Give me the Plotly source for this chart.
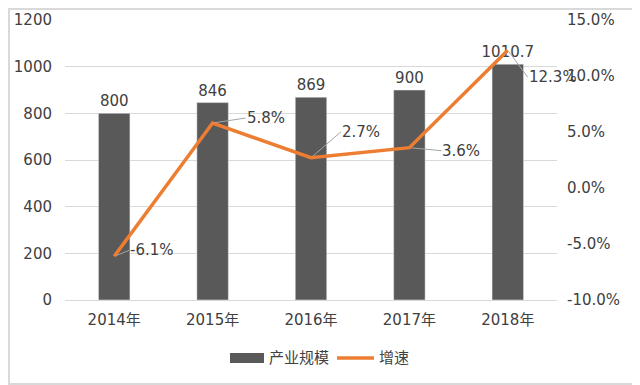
import plotly.graph_objects as go

categories = ["2014年", "2015年", "2016年", "2017年", "2018年"]
scale = [800, 846, 869, 900, 1010.7]
growth = [-6.1, 5.8, 2.7, 3.6, 12.3]
scale_labels = ["800", "846", "869", "900", "1010.7"]
growth_labels = ["-6.1%", "5.8%", "2.7%", "3.6%", "12.3%"]
left_ticks = [0, 200, 400, 600, 800, 1000, 1200]
right_ticks = [-10, -5, 0, 5, 10, 15]
right_tick_labels = ["-10.0%", "-5.0%", "0.0%", "5.0%", "10.0%", "15.0%"]

font_fam = "DejaVu Sans, Noto Sans CJK SC"
txt = "#404040"
bar_col = "#595959"
line_col = "#ED7D31"

OFF = 8  # default page body margin
W, H = 640 - OFF, 385 - OFF
L, T = 65 - OFF, 20 - OFF
R, B = W - (557 - OFF), H - (300 - OFF)
PW, PH = W - L - R, H - T - B

fig = go.Figure()
fig.add_trace(go.Bar(
    x=categories, y=scale, name="产业规模", marker_color=bar_col,
    width=0.32, text=scale_labels, textposition="outside", constraintext="none",
    textfont=dict(size=15, color=txt, family=font_fam), cliponaxis=False,
    showlegend=False,
))
fig.add_trace(go.Scatter(
    x=categories, y=growth, name="增速", yaxis="y2", mode="lines",
    line=dict(color=line_col, width=3.5), showlegend=False,
))

offsets = [(15, -6), (33, -5), (30, -26), (32, 3), (20, 27)]
for c, g, lab, (ax, ay) in zip(categories, growth, growth_labels, offsets):
    fig.add_annotation(
        x=c, y=g, xref="x", yref="y2", text=lab, showarrow=True,
        arrowhead=0, arrowwidth=1, arrowcolor="#a6a6a6", ax=ax, ay=ay,
        xanchor="left", font=dict(size=15, color=txt, family=font_fam),
        standoff=2, borderpad=0,
    )

# page pixel -> paper fraction
def px(x):
    return (x - OFF - L) / PW

def py(y):
    return 1 - (y - OFF - T) / PH

shapes = [
    dict(type="rect", xref="paper", yref="paper", x0=px(230), x1=px(264),
         y0=py(363), y1=py(353), fillcolor=bar_col, line=dict(width=0)),
    dict(type="line", xref="paper", yref="paper", x0=px(337), x1=px(374),
         y0=py(358), y1=py(358), line=dict(color=line_col, width=3.5)),
    dict(type="rect", xref="paper", yref="paper", x0=px(OFF + 1), x1=px(639),
         y0=py(384), y1=py(OFF + 1), line=dict(color="#d9d9d9", width=2)),
]
fig.add_annotation(x=px(267), y=py(358), xref="paper", yref="paper", text="产业规模",
                   showarrow=False, xanchor="left", yanchor="middle",
                   font=dict(size=15, color=txt, family=font_fam))
fig.add_annotation(x=px(377), y=py(358), xref="paper", yref="paper", text="增速",
                   showarrow=False, xanchor="left", yanchor="middle",
                   font=dict(size=15, color=txt, family=font_fam))

fig.update_layout(
    width=W, height=H,
    margin=dict(l=L, r=R, t=T, b=B),
    paper_bgcolor="white", plot_bgcolor="white",
    showlegend=False,
    xaxis=dict(tickfont=dict(size=15, color=txt, family=font_fam), showgrid=False,
               showline=True, linecolor="#d9d9d9", ticks="", range=[-0.5, 4.5],
               autorange=False, automargin=False, ticklabelstandoff=6),
    yaxis=dict(range=[0, 1200], tickvals=left_ticks, showgrid=True, gridcolor="#d9d9d9",
               tickfont=dict(size=15, color=txt, family=font_fam), zeroline=False,
               ticklabelstandoff=12, automargin=False),
    yaxis2=dict(range=[-10, 15], tickvals=right_ticks, ticktext=right_tick_labels,
                overlaying="y", side="right", showgrid=False, zeroline=False,
                tickfont=dict(size=15, color=txt, family=font_fam), ticklabelstandoff=9,
                automargin=False),
    shapes=shapes,
)

fig.write_html("out.html")
